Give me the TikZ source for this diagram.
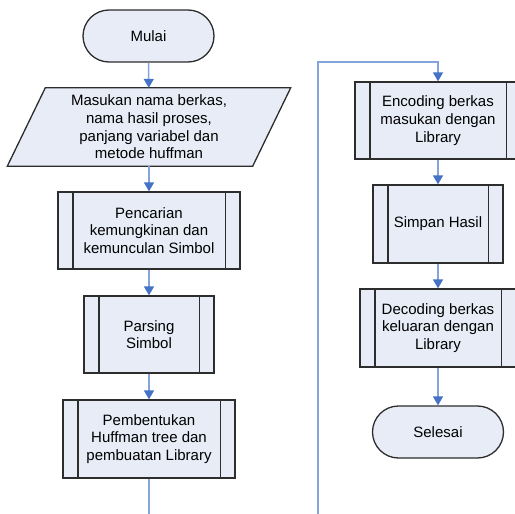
\documentclass[tikz,border=0pt]{standalone}
\usepackage{fontspec}
\setmainfont{Liberation Sans}
\usetikzlibrary{arrows.meta,shapes.misc,backgrounds}
\definecolor{boxfill}{RGB}{231,236,247}
\definecolor{boxline}{RGB}{45,45,45}
\definecolor{flowline}{RGB}{131,165,218}
\definecolor{flowtip}{RGB}{68,114,196}

\begin{document}
\begin{tikzpicture}[x=1pt,y=-1pt,
  every node/.style={font=\fontsize{15}{17.7}\selectfont,align=center,inner sep=0pt},
  term/.style={rounded rectangle,draw=boxline,fill=boxfill,line width=1.3pt,
    minimum width=131pt,minimum height=52pt},
  proc/.style={rectangle,draw=boxline,fill=boxfill,line width=1.3pt},
  flow/.style={flowline,line width=1.5pt,-{Triangle[length=9pt,width=10pt,fill=flowtip,color=flowtip]}}]
  \useasboundingbox (0,0) rectangle (515,514);
  % left column
  \node[term] (mulai) at (148.5,36) {Mulai};
  \node[minimum width=245pt,minimum height=78pt] (masukan) at (149,127)
    {Masukan nama berkas,\\nama hasil proses,\\panjang variabel dan\\metode huffman};
  \begin{pgfonlayer}{background}
    \draw[boxline,fill=boxfill,line width=1.3pt] ([xshift=19pt]masukan.north west)
      -- ([xshift=19pt]masukan.north east) -- ([xshift=-19pt]masukan.south east)
      -- ([xshift=-19pt]masukan.south west) -- cycle;
  \end{pgfonlayer}
  \node[proc,minimum width=182pt,minimum height=77pt] (cari) at (149,230.5)
    {Pencarian\\kemungkinan dan\\kemunculan Simbol};
  \node[proc,minimum width=130pt,minimum height=77pt] (parsing) at (149,334.5)
    {Parsing\\Simbol};
  \node[proc,minimum width=172pt,minimum height=78pt] (bentuk) at (149,439)
    {Pembentukan\\Huffman tree dan\\pembuatan Library};
  % right column
  \node[proc,minimum width=166pt,minimum height=77pt] (encode) at (438,120.5)
    {Encoding berkas\\masukan dengan\\Library};
  \node[proc,minimum width=130pt,minimum height=78pt] (simpan) at (438,224)
    {Simpan Hasil};
  \node[proc,minimum width=156pt,minimum height=78pt] (decode) at (438,328)
    {Decoding berkas\\keluaran dengan\\Library};
  \node[term] (selesai) at (438,432) {Selesai};
  % side strips of the predefined processes
  \foreach \n in {cari,parsing,bentuk,encode,simpan,decode}
    \draw[boxline,line width=1.3pt] ([xshift=15.5pt]\n.north west) -- ([xshift=15.5pt]\n.south west)
      ([xshift=-15.5pt]\n.north east) -- ([xshift=-15.5pt]\n.south east);
  \coordinate (kiribawah) at (149,514);
  \coordinate (kananbawah) at (318,514);
  \coordinate (kananatas) at (318,62);
  % connectors
  \draw[flow] (mulai) -- (masukan);
  \draw[flow] (masukan) -- (cari);
  \draw[flow] (cari) -- (parsing);
  \draw[flow] (parsing) -- (bentuk);
  \draw[flowline,line width=1.5pt] (bentuk) -- (kiribawah);
  \draw[flow] (kananbawah) -- (kananatas) -| (encode.north);
  \draw[flow] (encode) -- (simpan);
  \draw[flow] (simpan) -- (decode);
  \draw[flow] (decode) -- (selesai);
\end{tikzpicture}
\end{document}
